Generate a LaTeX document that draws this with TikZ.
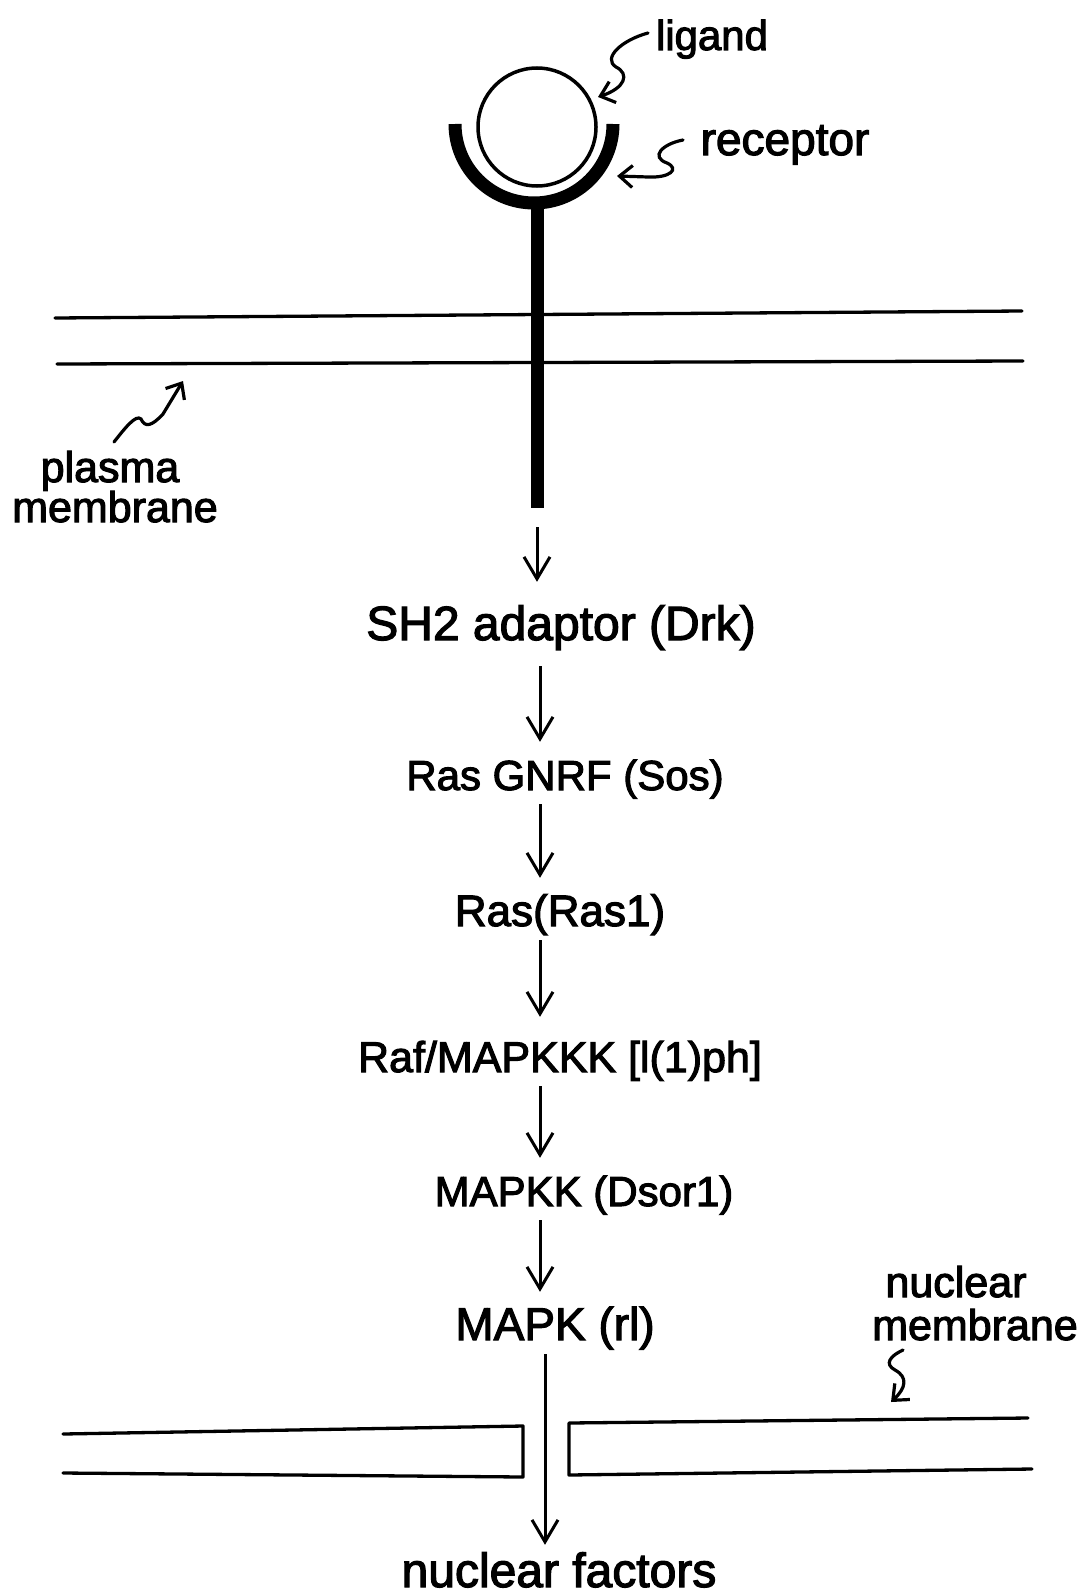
\documentclass[tikz,border=0pt]{standalone}
\usepackage{fontspec}
\setmainfont{Liberation Sans}[FakeBold=2.5]
\usetikzlibrary{arrows.meta}
\begin{document}
\begin{tikzpicture}[x=1pt,y=-1pt,
  lbl/.style={anchor=base,inner sep=0pt},
  main/.style={anchor=base,inner sep=0pt,text height=38pt,text depth=12pt},
  arr/.style={line width=3pt,-{Straight Barb[length=22pt,width=26pt,line width=3pt]},shorten <=2pt,shorten >=10pt},
  sq/.style={line width=3.2pt,line cap=round,-{Straight Barb[length=13pt,width=22pt,line width=3.2pt]}},
  mem/.style={line width=3.3pt,line cap=round,line join=round},
  thick stroke/.style={line width=13pt}]
\path[use as bounding box] (0,0) rectangle (1086,1595);

% ligand and receptor
\node[draw,circle,line width=3.5pt,minimum size=118pt,inner sep=0pt] (lig) at (537,127) {};
\draw[thick stroke] (455,124) arc[start angle=180,end angle=0,radius=79];
\coordinate (stemtop) at (537,200);
\coordinate (stemend) at (537,508);
\draw[thick stroke] (stemtop) -- (stemend);

% plasma membrane
\coordinate (pm1a) at (55,318);
\coordinate (pm1b) at (1022,311);
\coordinate (pm2a) at (57,364);
\coordinate (pm2b) at (1023,361);
\draw[mem] (pm1a) -- (pm1b);
\draw[mem] (pm2a) -- (pm2b);

% nuclear membrane
\draw[mem] (63,1434) -- (523,1426) -- (523,1477) -- (63,1473);
\draw[mem] (1028,1418) -- (569,1423) -- (569,1475) -- (1032,1469);

% small labels
\node[lbl,font=\fontsize{42}{44}\selectfont] (ligand) at (712,50) {ligand};
\node[lbl,font=\fontsize{46}{48}\selectfont] (receptor) at (785,155) {receptor};
\node[lbl,font=\fontsize{43}{45}\selectfont] (plasma) at (110,482) {plasma};
\node[lbl,font=\fontsize{43}{45}\selectfont] (pmem) at (115,522) {membrane};
\node[lbl,font=\fontsize{43}{45}\selectfont] (nuclear) at (956,1297) {nuclear};
\node[lbl,font=\fontsize{43}{45}\selectfont] (nmem) at (975,1340) {membrane};

% pointer arrows
\coordinate (ligtail) at (648,33);
\coordinate (ligtip) at (598,97);
\coordinate (rectail) at (683,140);
\coordinate (rectip) at (617,176);
\coordinate (pmtail) at (114,442);
\coordinate (pmtip) at (183,381);
\coordinate (nmtail) at (903,1350);
\coordinate (nmtip) at (891,1402);
\draw[sq] (ligtail) .. controls (622,40) and (602,58) .. (616,67)
  .. controls (630,74) and (625,88) .. (ligtip);
\draw[sq] (rectail) .. controls (662,144) and (650,157) .. (667,163)
  .. controls (680,169) and (670,178) .. (648,177) -- (rectip);
\draw[sq] (pmtail) .. controls (125,428) and (136,414) .. (141,419)
  .. controls (145,428) and (152,426) .. (163,414) -- (pmtip);
\draw[sq] (nmtail) .. controls (890,1356) and (884,1364) .. (895,1370)
  .. controls (908,1377) and (906,1388) .. (nmtip);

% pathway
\node[main,font=\fontsize{48}{50}\selectfont] (sh2) at (561,640) {SH2 adaptor (Drk)};
\node[main,font=\fontsize{42}{44}\selectfont] (gnrf) at (565,790) {Ras GNRF (Sos)};
\node[main,font=\fontsize{44}{46}\selectfont] (ras) at (560,926) {Ras(Ras1)};
\node[main,font=\fontsize{43}{45}\selectfont] (raf) at (560,1072) {Raf/MAPKKK [l(1)ph]};
\node[main,font=\fontsize{42}{44}\selectfont] (mapkk) at (584,1206) {MAPKK (Dsor1)};
\node[main,font=\fontsize{46}{48}\selectfont] (mapk) at (555,1340) {MAPK (rl)};
\node[main,font=\fontsize{48}{50}\selectfont] (nf) at (559,1587) {nuclear factors};

\coordinate (ax) at (540,0);
\coordinate (ax2) at (545,0);
\draw[arr,shorten <=19pt,shorten >=20pt] (stemend) -- (sh2.north -| stemend);
\draw[arr,shorten <=14pt] (sh2.south -| ax) -- (gnrf.north -| ax);
\draw[arr] (gnrf.south -| ax) -- (ras.north -| ax);
\draw[arr,shorten >=17pt] (ras.south -| ax) -- (raf.north -| ax);
\draw[arr] (raf.south -| ax) -- (mapkk.north -| ax);
\draw[arr] (mapkk.south -| ax) -- (mapk.north -| ax);
\draw[arr,shorten >=4pt] (mapk.south -| ax2) -- (nf.north -| ax2);
\end{tikzpicture}
\end{document}
